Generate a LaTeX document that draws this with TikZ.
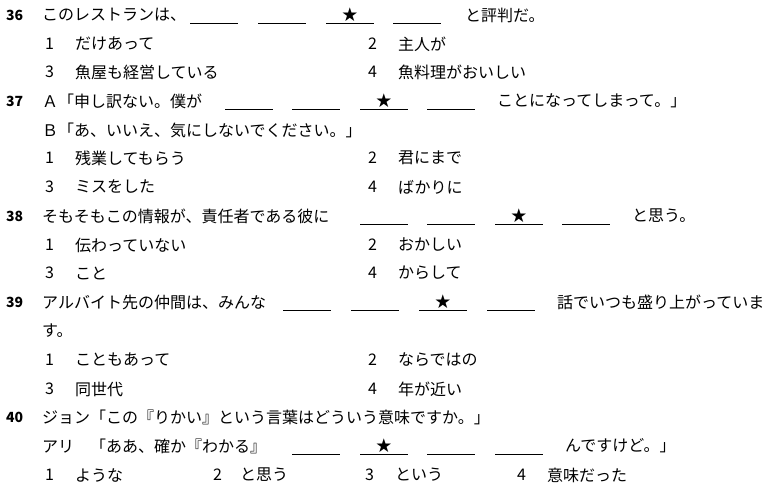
\documentclass[tikz,border=0pt]{standalone}
\usepackage{fontspec}
\setmainfont{Noto Sans CJK JP}
\newfontfamily\symf{DejaVu Sans}
\begin{document}
\begin{tikzpicture}[x=1pt,y=-1pt,
  t/.style={anchor=west,inner sep=0pt,font=\fontsize{16}{16}\selectfont},
  qn/.style={anchor=west,inner sep=0pt,font=\fontsize{14}{14}\selectfont\bfseries}]
\useasboundingbox (0,0) rectangle (775,491);
\newcommand\blk[2]{\draw[line width=0.7pt] (#1,#2+8) -- (#1+48,#2+8);}
\newcommand\blks[2]{\blk{#1}{#2}\node[inner sep=0pt,font=\symf\fontsize{19}{19}\selectfont] at (#1+24,#2) {★};}
\newcommand\opt[4]{\node[t] (n#1#2) at (45,#2) {#1}; \node[t] (o#1#2) at (75,#2) {#3};}
\newcommand\optb[4]{\node[t] (n#1#2) at (368,#2) {#1}; \node[t] (o#1#2) at (398,#2) {#3};}
% 36
\node[qn] (q36) at (6,15) {36};
\node[t] (s36) at (42,15) {このレストランは、};
\blk{190}{15}\blk{258}{15}\blks{326}{15}\blk{393}{15}
\node[t] (e36) at (465,15) {と評判だ。};
\opt{1}{44}{だけあって}{}\optb{2}{44}{主人が}{}
\opt{3}{72}{魚屋も経営している}{}\optb{4}{72}{魚料理がおいしい}{}
% 37
\node[qn] (q37) at (6,101) {37};
\node[t] (s37) at (42,101) {Ａ「申し訳ない。僕が};
\blk{225}{101}\blk{292}{101}\blks{360}{101}\blk{427}{101}
\node[t] (e37) at (497,101) {ことになってしまって。」};
\node[t] (b37) at (42,130) {Ｂ「あ、いいえ、気にしないでください。」};
\opt{1}{158}{残業してもらう}{}\optb{2}{158}{君にまで}{}
\opt{3}{187}{ミスをした}{}\optb{4}{187}{ばかりに}{}
% 38
\node[qn] (q38) at (6,216) {38};
\node[t] (s38) at (42,216) {そもそもこの情報が、責任者である彼に};
\blk{360}{216}\blk{427}{216}\blks{495}{216}\blk{562}{216}
\node[t] (e38) at (632,216) {と思う。};
\opt{1}{245}{伝わっていない}{}\optb{2}{245}{おかしい}{}
\opt{3}{273}{こと}{}\optb{4}{273}{からして}{}
% 39
\node[qn] (q39) at (6,302) {39};
\node[t] (s39) at (42,302) {アルバイト先の仲間は、みんな};
\blk{283}{302}\blk{351}{302}\blks{419}{302}\blk{487}{302}
\node[t] (e39) at (557,302) {話でいつも盛り上がっていま};
\node[t] (f39) at (42,331) {す。};
\opt{1}{360}{こともあって}{}\optb{2}{360}{ならではの}{}
\opt{3}{389}{同世代}{}\optb{4}{389}{年が近い}{}
% 40
\node[qn] (q40) at (6,417) {40};
\node[t] (s40) at (42,417) {ジョン「この『りかい』という言葉はどういう意味ですか。」};
\node[t] (a40) at (42,446) {アリ　「ああ、確か『わかる』};
\blk{292}{446}\blks{360}{446}\blk{427}{446}\blk{495}{446}
\node[t] (e40) at (565,446) {んですけど。」};
\node[t] (n140) at (45,475) {1}; \node[t] (o140) at (75,475) {ような};
\node[t] (n240) at (213,475) {2}; \node[t] (o240) at (240,475) {と思う};
\node[t] (n340) at (365,475) {3}; \node[t] (o340) at (395,475) {という};
\node[t] (n440) at (517,475) {4}; \node[t] (o440) at (547,475) {意味だった};
\end{tikzpicture}
\end{document}
